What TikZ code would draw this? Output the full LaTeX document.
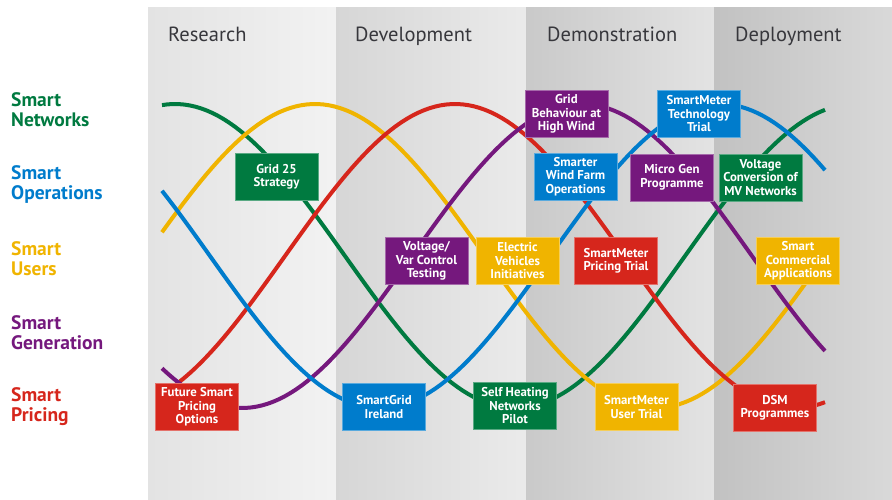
\documentclass[tikz,border=0pt]{standalone}
\usepackage{fontspec}
\setmainfont{PT Sans}
\usepackage{tikz}
\usetikzlibrary{positioning}
\usepackage{xcolor}

\definecolor{netgreen}{RGB}{0,122,64}
\definecolor{opblue}{RGB}{0,124,204}
\definecolor{useryellow}{RGB}{240,180,0}
\definecolor{genpurple}{RGB}{117,24,125}
\definecolor{pricered}{RGB}{214,38,28}
\definecolor{phasegray}{RGB}{55,55,60}

\begin{document}
\begin{tikzpicture}[
    x=1pt, y=-1pt,
    wave/.style={line width=4pt},
    project/.style={draw=white!35!#1, fill=#1, text=white, line width=0.6pt,
        font=\bfseries\fontsize{12.8}{13.5}\selectfont, align=center,
        minimum width=83pt, minimum height=47pt, inner sep=1pt},
    phase/.style={anchor=base west, text=phasegray, inner sep=0pt,
        font=\fontsize{20.5}{22}\selectfont},
    stream/.style={anchor=west, align=left, text=#1, inner sep=0pt,
        font=\bfseries\fontsize{19.5}{20}\selectfont}
]
    \useasboundingbox (0,0) rectangle (892,499);

    % Four phase columns, each shaded from dark to light:
    \fill[left color=black!11, right color=black!5] (148,7) rectangle (336,499);
    \fill[left color=black!16, right color=black!8] (336,7) rectangle (526,499);
    \fill[left color=black!21, right color=black!11] (526,7) rectangle (714,499);
    \fill[left color=black!24, right color=black!15] (714,7) rectangle (892,499);

    \node[phase] (research) at (168,41) {Research};
    \node[phase] (development) at (355,41) {Development};
    \node[phase] (demonstration) at (547,41) {Demonstration};
    \node[phase] (deployment) at (735,41) {Deployment};

    \node[stream=netgreen] (networks) at (11,110) {Smart\\Networks};
    \node[stream=opblue] (operations) at (11,184) {Smart\\Operations};
    \node[stream=useryellow] (users) at (11,259) {Smart\\Users};
    \node[stream=genpurple] (generation) at (11,333) {Smart\\Generation};
    \node[stream=pricered] (pricing) at (11,407) {Smart\\Pricing};

    % One wave per stream, peaks shifted along the phases (0.5294 = 360/680):
    \draw[wave, netgreen] plot[domain=162:825, samples=120] (\x, {256-152*cos(0.5294*(\x-175))});
    \draw[wave, useryellow] plot[domain=162:825, samples=120] (\x, {256-152*cos(0.5294*(\x-315))});
    \draw[wave, pricered] plot[domain=162:825, samples=120] (\x, {256-152*cos(0.5294*(\x-455))});
    \draw[wave, genpurple] plot[domain=162:825, samples=120] (\x, {256-152*cos(0.5294*(\x-582))});
    \draw[wave, opblue] plot[domain=162:825, samples=120] (\x, {256-152*cos(0.5294*(\x-720))});

    % Projects:
    \node[project=netgreen] (grid25) at (276.5,177) {Grid 25\\Strategy};
    \node[project=pricered] (futurepricing) at (197,407) {Future Smart\\Pricing\\Options};
    \node[project=opblue] (smartgrid) at (384,407) {SmartGrid\\Ireland};
    \node[project=genpurple] (varcontrol) at (426.5,261) {Voltage/\\Var Control\\Testing};
    \node[project=useryellow] (evehicles) at (517.5,261) {Electric\\Vehicles\\Initiatives};
    \node[project=pricered] (pricingtrial) at (616,261) {SmartMeter\\Pricing Trial};
    \node[project=useryellow] (commercial) at (798,261) {Smart\\Commercial\\Applications};
    \node[project=netgreen] (selfheating) at (515,406) {Self Heating\\Networks\\Pilot};
    \node[project=useryellow] (usertrial) at (636.5,407) {SmartMeter\\User Trial};
    \node[project=pricered] (dsm) at (775,408) {DSM\\Programmes};
    \node[project=genpurple] (highwind) at (566.5,114) {Grid\\Behaviour at\\High Wind};
    \node[project=opblue] (techtrial) at (699,114) {SmartMeter\\Technology\\Trial};
    \node[project=opblue] (windfarm) at (575.5,176.5) {Smarter\\Wind Farm\\Operations};
    \node[project=genpurple] (microgen) at (672,177.5) {Micro Gen\\Programme};
    \node[project=netgreen] (mvconversion) at (760.5,177.5) {Voltage\\Conversion of\\MV Networks};
\end{tikzpicture}
\end{document}
